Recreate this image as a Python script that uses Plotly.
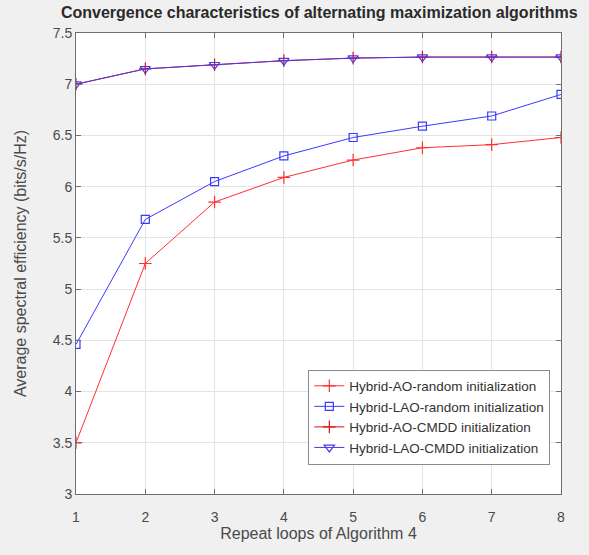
import plotly.graph_objects as go

loops = [1, 2, 3, 4, 5, 6, 7, 8]
ao_random = [3.5, 5.25, 5.85, 6.09, 6.26, 6.38, 6.41, 6.48]
lao_random = [4.46, 5.68, 6.05, 6.3, 6.48, 6.59, 6.69, 6.9]
ao_cmdd = [7.0, 7.15, 7.19, 7.23, 7.255, 7.265, 7.265, 7.265]
lao_cmdd = [7.0, 7.15, 7.19, 7.23, 7.255, 7.265, 7.265, 7.265]

names = [
    "Hybrid-AO-random initialization",
    "Hybrid-LAO-random initialization",
    "Hybrid-AO-CMDD initialization",
    "Hybrid-LAO-CMDD initialization",
]

RED = "#ff3030"
DARK_RED = "#e01010"
BLUE = "#3a3aff"
BLUE2 = "#4a3ae8"
FONT = "Liberation Sans, Arial"

fig = go.Figure()
fig.add_trace(go.Scatter(
    x=loops, y=ao_random, name=names[0], mode="lines+markers",
    line=dict(color=RED, width=1),
    marker=dict(symbol="cross-thin", size=9, line=dict(color=RED, width=1.2)),
))
fig.add_trace(go.Scatter(
    x=loops, y=lao_random, name=names[1], mode="lines+markers",
    line=dict(color=BLUE, width=1),
    marker=dict(symbol="square-open", size=8, color=BLUE, line=dict(width=1.2)),
))
fig.add_trace(go.Scatter(
    x=loops, y=ao_cmdd, name=names[2], mode="lines+markers",
    line=dict(color=DARK_RED, width=1),
    marker=dict(symbol="cross-thin", size=9, line=dict(color=DARK_RED, width=1.2)),
))
fig.add_trace(go.Scatter(
    x=loops, y=lao_cmdd, name=names[3], mode="lines+markers",
    line=dict(color=BLUE2, width=1),
    marker=dict(symbol="triangle-down-open", size=9, color=BLUE2, line=dict(width=1.2)),
))

axis_common = dict(
    showline=True, linecolor="#6e6e6e", linewidth=1, mirror="allticks",
    ticks="inside", ticklen=5, tickcolor="#6e6e6e",
    showgrid=True, gridcolor="#e4e4e4", gridwidth=1, zeroline=False,
    tickfont=dict(family=FONT, size=14, color="#4a4a4a"),
)

fig.update_layout(
    width=589, height=555,
    paper_bgcolor="#f0f0f0", plot_bgcolor="#ffffff",
    margin=dict(l=76, r=28, t=33, b=61),
    title=dict(
        text="<b>Convergence characteristics of alternating maximization algorithms</b>",
        font=dict(family=FONT, size=16, color="#2a2a2a"),
        x=0.542, xanchor="center", y=0.978, yanchor="middle",
    ),
    xaxis=dict(
        range=[1, 8], tickvals=loops, ticklabelstandoff=10,
        title=dict(text="Repeat loops of Algorithm 4", standoff=4,
                   font=dict(family=FONT, size=16, color="#4a4a4a")),
        **axis_common,
    ),
    yaxis=dict(
        range=[3, 7.5], tickvals=[3, 3.5, 4, 4.5, 5, 5.5, 6, 6.5, 7, 7.5],
        ticktext=["3", "3.5", "4", "4.5", "5", "5.5", "6", "6.5", "7", "7.5"],
        title=dict(text="Average spectral efficiency (bits/s/Hz)", standoff=22,
                   font=dict(family=FONT, size=16, color="#4a4a4a")),
        **axis_common,
    ),
    legend=dict(
        x=0.978, xanchor="right", y=0.27, yanchor="top",
        bgcolor="#ffffff", bordercolor="#8a8a8a", borderwidth=1,
        font=dict(family=FONT, size=13.5, color="#333333"),
        tracegroupgap=0, itemwidth=30,
    ),
    showlegend=True,
)

fig.write_html("out.html")
